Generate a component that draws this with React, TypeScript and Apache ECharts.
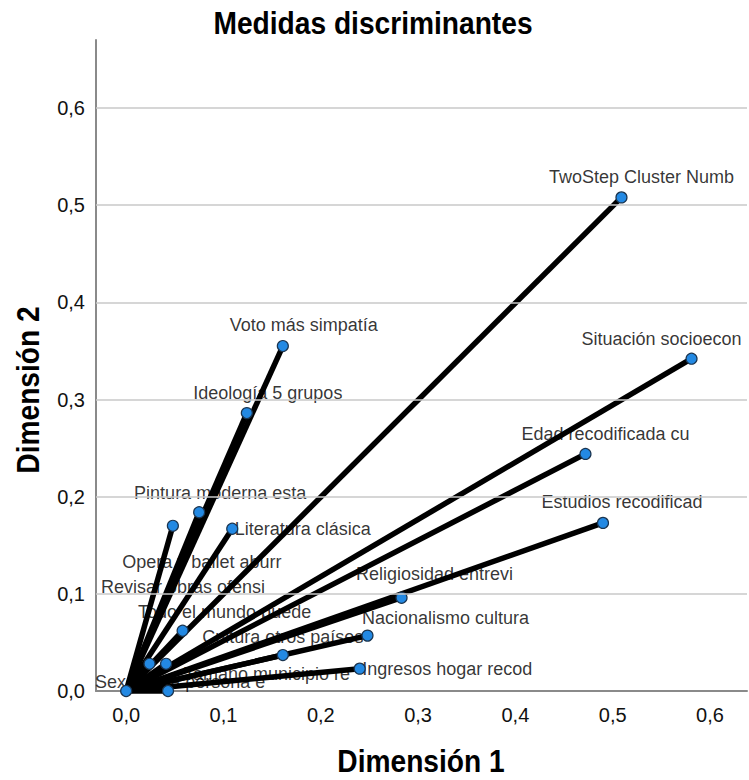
import React, { useEffect, useRef } from "react";
import * as echarts from "echarts";

// Discrimination measures (Dimensión 1, Dimensión 2) per variable
const variables = [
  "TwoStep Cluster Numb",
  "Situación socioecon",
  "Edad recodificada cu",
  "Estudios recodificad",
  "Religiosidad entrevi",
  "Nacionalismo cultura",
  "Ingresos hogar recod",
  "Cultura otros países",
  "Voto más simpatía",
  "Ideología 5 grupos",
  "Pintura moderna esta",
  "Literatura clásica",
  "Opera y ballet aburr",
  "Todo el mundo puede",
  "Revisar obras ofensi",
  "",
  "Tamaño municipio re",
  "Sexo de la persona e",
];
const dimension1 = [
  0.509, 0.581, 0.472, 0.49, 0.283, 0.248, 0.24, 0.161, 0.161, 0.124, 0.075,
  0.109, 0.048, 0.058, 0.041, 0.024, 0.043, 0.0,
];
const dimension2 = [
  0.508, 0.342, 0.244, 0.173, 0.096, 0.057, 0.023, 0.037, 0.355, 0.286, 0.184,
  0.167, 0.17, 0.062, 0.028, 0.028, 0.0, 0.0,
];
const gridTicks = [0.1, 0.2, 0.3, 0.4, 0.5, 0.6];
const titleText = "Medidas discriminantes";
const xName = "Dimensión 1";
const yName = "Dimensión 2";

// label placement (style only): offset of label centre from the point
const labelPlacement: Record<string, { pos: string; dx: number; dy: number }> = {
  "TwoStep Cluster Numb": { pos: "inside", dx: 20, dy: -20 },
  "Situación socioecon": { pos: "inside", dx: -30, dy: -20 },
  "Edad recodificada cu": { pos: "inside", dx: 20, dy: -20 },
  "Estudios recodificad": { pos: "inside", dx: 19, dy: -21 },
  "Religiosidad entrevi": { pos: "inside", dx: 33, dy: -24 },
  "Nacionalismo cultura": { pos: "inside", dx: 78, dy: -18 },
  "Ingresos hogar recod": { pos: "right", dx: 0, dy: 0 },
  "Cultura otros países": { pos: "inside", dx: 0, dy: -18 },
  "Voto más simpatía": { pos: "inside", dx: 21, dy: -21 },
  "Ideología 5 grupos": { pos: "inside", dx: 21, dy: -20 },
  "Pintura moderna esta": { pos: "inside", dx: 21, dy: -19 },
  "Literatura clásica": { pos: "right", dx: 0, dy: 0 },
  "Opera y ballet aburr": { pos: "inside", dx: 29, dy: 36 },
  "Todo el mundo puede": { pos: "inside", dx: 42, dy: -19 },
  "Revisar obras ofensi": { pos: "inside", dx: 17, dy: -77 },
  "Tamaño municipio re": { pos: "inside", dx: 99, dy: -17 },
  "Sexo de la persona e": { pos: "inside", dx: 54, dy: -9 },
};

const FONT = '"Liberation Sans", Arial, sans-serif';
const fmt = (v: number) => v.toFixed(1).replace(".", ",");

export default function App() {
  const ref = useRef<HTMLDivElement>(null);
  useEffect(() => {
    document.body.style.margin = "0";
    if (!ref.current) return;
    const chart = echarts.init(ref.current, undefined, { renderer: "svg" });

    const points = variables.map((name, i) => ({
      name,
      value: [dimension1[i], dimension2[i]],
    }));

    const labelData = variables.map((name, i) => {
      const p = labelPlacement[name];
      return {
        name,
        value: [dimension1[i], dimension2[i]],
        label: p
          ? {
              show: true,
              position: p.pos,
              offset: [p.dx, p.dy],
              distance: 2,
              align: p.pos === "right" ? "left" : "center",
            }
          : { show: false },
      };
    });

    const bigText = (text: string, x: number, y: number, rotation = 0) => ({
      type: "text",
      x,
      y,
      rotation,
      scaleX: 0.88,
      silent: true,
      style: {
        text,
        fill: "#000",
        font: `bold 32px ${FONT}`,
        textAlign: "center",
        textVerticalAlign: "middle",
      },
    });

    const option: any = {
      animation: false,
      backgroundColor: "#ffffff",
      graphic: [
        bigText(titleText, 373, 23),
        bigText(xName, 421, 761),
        bigText(yName, 28, 390, Math.PI / 2),
      ],
      grid: { left: 96, right: 2, top: 40, bottom: 89, containLabel: false },
      xAxis: {
        type: "value",
        min: -0.031,
        max: 0.638,
        axisLine: { show: true, onZero: false, lineStyle: { color: "#8a8a8a", width: 2 } },
        axisTick: { show: false },
        splitLine: { show: false },
        axisLabel: {
          showMinLabel: false,
          showMaxLabel: false,
          margin: 14,
          fontFamily: FONT,
          fontSize: 20,
          color: "#111",
          formatter: (v: number) => fmt(v),
        },
      },
      yAxis: {
        type: "value",
        min: 0,
        max: 0.67,
        interval: 0.1,
        axisLine: { show: true, onZero: false, lineStyle: { color: "#8a8a8a", width: 2 } },
        axisTick: { show: false },
        splitLine: { show: false },
        axisLabel: {
          showMaxLabel: false,
          margin: 11,
          fontFamily: FONT,
          fontSize: 20,
          color: "#111",
          formatter: (v: number) => fmt(v),
        },
      },
      series: [
        {
          type: "line",
          name: "grid",
          data: [],
          silent: true,
          z: 0,
          markLine: {
            silent: true,
            symbol: "none",
            label: { show: false },
            lineStyle: { color: "#c8c8c8", width: 1.5, type: "solid" },
            data: gridTicks.map((t) => ({ yAxis: t })),
          },
        },
        {
          type: "scatter",
          name: "labels",
          data: labelData,
          symbolSize: 1,
          itemStyle: { color: "rgba(0,0,0,0)" },
          silent: true,
          clip: false,
          z: 1,
          label: {
            formatter: (p: any) => p.name,
            fontFamily: FONT,
            fontSize: 18,
            color: "#000",
            verticalAlign: "middle",
          },
        },
        {
          type: "lines",
          coordinateSystem: "cartesian2d",
          name: "vectors",
          silent: true,
          clip: false,
          z: 2,
          lineStyle: { color: "#000", width: 5.5, opacity: 1 },
          data: variables.map((name, i) => ({
            name,
            coords: [
              [0, 0],
              [dimension1[i], dimension2[i]],
            ],
          })),
        },
        {
          type: "scatter",
          name: "points",
          data: points,
          symbol: "circle",
          symbolSize: 11,
          clip: false,
          z: 3,
          itemStyle: {
            color: "#2389e3",
            borderColor: "#1b3550",
            borderWidth: 1.2,
            opacity: 1,
          },
        },
      ],
    };
    chart.setOption(option);
    return () => chart.dispose();
  }, []);
  return <div ref={ref} style={{ width: 749, height: 780 }} />;
}
